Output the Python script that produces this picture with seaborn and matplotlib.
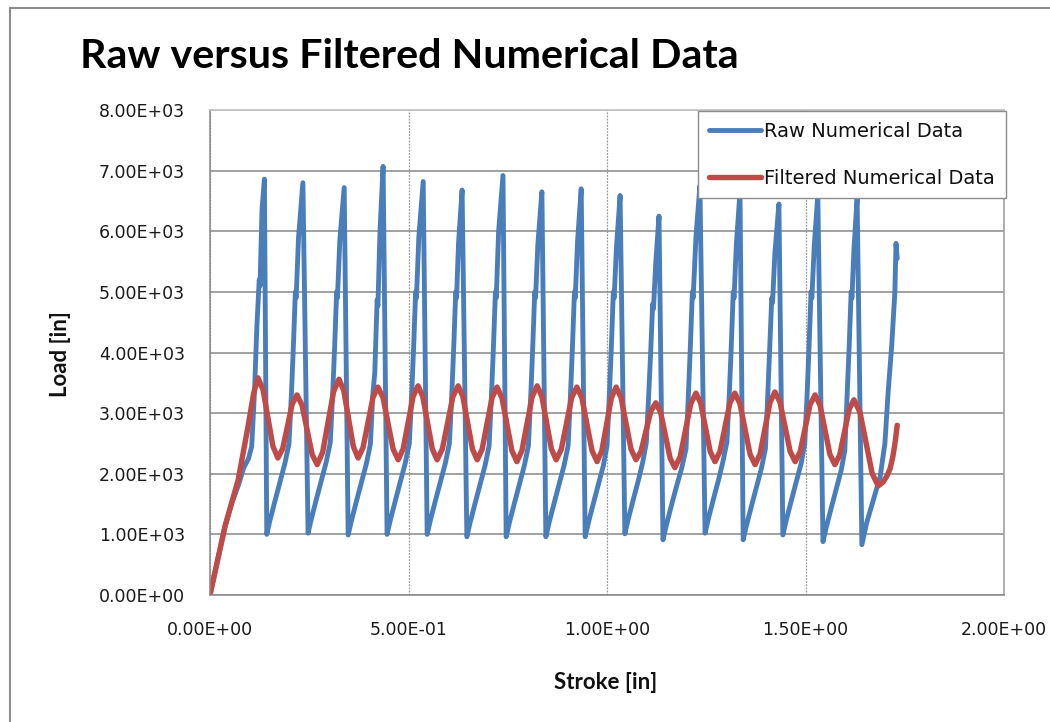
import matplotlib
matplotlib.use("Agg")
import matplotlib.pyplot as plt
from matplotlib.lines import Line2D
import pandas as pd
import seaborn as sns

# ---- Raw numerical data (stroke in, load) ----
raw_stroke = [
    0.000, 0.020, 0.038, 0.055, 0.071, 0.085, 0.097, 0.105, 0.112, 0.118, 0.124, 0.126, 0.131, 0.137,
    0.143, 0.151, 0.164, 0.177, 0.189, 0.199, 0.205, 0.210, 0.215, 0.217, 0.223, 0.234,
    0.247, 0.255, 0.268, 0.281, 0.293, 0.303, 0.309, 0.314, 0.319, 0.321, 0.327, 0.338,
    0.348, 0.356, 0.369, 0.382, 0.394, 0.404, 0.410, 0.415, 0.421, 0.423, 0.428, 0.436,
    0.446, 0.454, 0.467, 0.480, 0.492, 0.502, 0.508, 0.513, 0.518, 0.520, 0.526, 0.537,
    0.547, 0.555, 0.568, 0.581, 0.593, 0.603, 0.609, 0.614, 0.619, 0.621, 0.626, 0.635,
    0.647, 0.655, 0.668, 0.681, 0.693, 0.703, 0.709, 0.714, 0.719, 0.721, 0.727, 0.738,
    0.746, 0.754, 0.767, 0.780, 0.792, 0.802, 0.808, 0.813, 0.818, 0.820, 0.826, 0.836,
    0.846, 0.854, 0.867, 0.880, 0.892, 0.902, 0.908, 0.913, 0.918, 0.920, 0.926, 0.935,
    0.945, 0.953, 0.966, 0.979, 0.991, 1.000, 1.006, 1.011, 1.016, 1.018, 1.024, 1.033,
    1.045, 1.053, 1.066, 1.079, 1.090, 1.099, 1.105, 1.110, 1.115, 1.117, 1.123, 1.131,
    1.141, 1.149, 1.162, 1.175, 1.188, 1.199, 1.205, 1.210, 1.215, 1.217, 1.224, 1.234,
    1.247, 1.255, 1.268, 1.281, 1.292, 1.302, 1.308, 1.313, 1.318, 1.320, 1.326, 1.335,
    1.343, 1.351, 1.364, 1.377, 1.389, 1.399, 1.405, 1.410, 1.415, 1.417, 1.423, 1.433,
    1.443, 1.451, 1.464, 1.477, 1.489, 1.498, 1.504, 1.509, 1.514, 1.516, 1.522, 1.531,
    1.544, 1.552, 1.565, 1.578, 1.590, 1.599, 1.605, 1.610, 1.615, 1.617, 1.622, 1.630,
    1.642, 1.654, 1.671, 1.688, 1.700, 1.708, 1.717, 1.725, 1.728, 1.731,
]
raw_load = [
    0, 600, 1130, 1520, 1800, 2100, 2250, 2450, 3330, 4420, 5200, 5100, 6350, 6860,
    1000, 1230, 1560, 1880, 2180, 2500, 3300, 4100, 5000, 4900, 5900, 6800,
    1020, 1250, 1580, 1900, 2200, 2520, 3320, 4100, 5000, 4900, 5850, 6720,
    990, 1220, 1550, 1870, 2170, 2490, 3300, 3660, 4870, 4770, 5970, 7070,
    1000, 1230, 1560, 1880, 2180, 2500, 3300, 4100, 5000, 4900, 5900, 6820,
    1000, 1230, 1560, 1880, 2180, 2500, 3300, 4100, 5000, 4900, 5800, 6680,
    960, 1190, 1520, 1840, 2140, 2460, 3300, 4100, 5000, 4900, 6000, 6920,
    960, 1190, 1520, 1840, 2140, 2460, 3300, 4100, 5000, 4900, 5800, 6650,
    960, 1190, 1520, 1840, 2140, 2460, 3300, 4100, 5000, 4900, 5850, 6700,
    960, 1190, 1520, 1840, 2140, 2460, 3300, 4100, 5000, 4900, 5750, 6590,
    1010, 1240, 1570, 1890, 2190, 2510, 3300, 4000, 4800, 4720, 5500, 6250,
    910, 1140, 1470, 1790, 2090, 2410, 3300, 4100, 5000, 4900, 5900, 6750,
    1020, 1250, 1580, 1900, 2200, 2520, 3300, 4100, 5000, 4900, 5800, 6650,
    910, 1140, 1470, 1790, 2090, 2410, 3300, 4100, 4900, 4820, 5650, 6450,
    990, 1220, 1550, 1870, 2170, 2490, 3300, 4100, 5000, 4900, 5750, 6600,
    880, 1110, 1440, 1760, 2060, 2380, 3300, 4100, 5000, 4900, 5700, 6550,
    830, 1190, 1570, 1950, 2500, 3330, 4100, 4980, 5800, 5550,
]

# ---- Filtered numerical data (stroke in, load) ----
filtered_stroke = [
    0.000, 0.020, 0.038, 0.071, 0.095, 0.110, 0.121,
    0.1335, 0.146, 0.1585, 0.171, 0.183, 0.195, 0.207, 0.219,
    0.2318, 0.2445, 0.2573, 0.270, 0.2838, 0.2975, 0.3113, 0.325,
    0.337, 0.349, 0.361, 0.373, 0.3855, 0.398, 0.4105, 0.423,
    0.4358, 0.4485, 0.4613, 0.474, 0.4865, 0.499, 0.5115, 0.524,
    0.536, 0.548, 0.560, 0.572, 0.5853, 0.5985, 0.6118, 0.625,
    0.637, 0.649, 0.661, 0.673, 0.6855, 0.698, 0.7105, 0.723,
    0.7355, 0.748, 0.7605, 0.773, 0.7858, 0.7985, 0.8113, 0.824,
    0.836, 0.848, 0.860, 0.872, 0.885, 0.898, 0.911, 0.924,
    0.9368, 0.9495, 0.9623, 0.975, 0.987, 0.999, 1.011, 1.023,
    1.0355, 1.048, 1.0605, 1.073, 1.0855, 1.098, 1.1105, 1.123,
    1.135, 1.147, 1.159, 1.171, 1.1843, 1.1975, 1.2108, 1.224,
    1.236, 1.248, 1.260, 1.272, 1.2845, 1.297, 1.3095, 1.322,
    1.3348, 1.3475, 1.3603, 1.373, 1.3855, 1.398, 1.4105, 1.423,
    1.4358, 1.4485, 1.4613, 1.474, 1.4865, 1.499, 1.5115, 1.524,
    1.5365, 1.549, 1.5615, 1.574, 1.586, 1.598, 1.610, 1.622,
    1.6373, 1.6525, 1.6678, 1.683, 1.695, 1.704, 1.713, 1.720, 1.726, 1.731,
]
filtered_load = [
    0, 600, 1140, 1900, 2750, 3330, 3580,
    3387, 2920, 2453, 2260, 2412, 2780, 3148, 3300,
    3132, 2725, 2318, 2150, 2356, 2855, 3354, 3560,
    3370, 2910, 2450, 2260, 2431, 2845, 3259, 3430,
    3255, 2830, 2405, 2230, 2408, 2840, 3272, 3450,
    3272, 2840, 2408, 2230, 2408, 2840, 3272, 3450,
    3272, 2840, 2408, 2230, 2405, 2830, 3255, 3430,
    3250, 2815, 2380, 2200, 2383, 2825, 3267, 3450,
    3272, 2840, 2408, 2230, 2405, 2830, 3255, 3430,
    3250, 2815, 2380, 2200, 2380, 2815, 3250, 3430,
    3255, 2830, 2405, 2230, 2367, 2700, 3033, 3170,
    3014, 2635, 2256, 2100, 2280, 2715, 3150, 3330,
    3165, 2765, 2365, 2200, 2365, 2765, 3165, 3330,
    3158, 2740, 2322, 2150, 2325, 2750, 3175, 3350,
    3182, 2775, 2368, 2200, 2361, 2750, 3139, 3300,
    3132, 2725, 2318, 2150, 2306, 2685, 3064, 3220,
    3013, 2510, 2007, 1800, 1860, 1950, 2080, 2280, 2530, 2800,
]

x_ticks = [0.0, 0.5, 1.0, 1.5, 2.0]
y_ticks = [0, 1000, 2000, 3000, 4000, 5000, 6000, 7000, 8000]

chart_title = "Raw versus Filtered Numerical Data"
x_title = "Stroke [in]"
y_title = "Load [in]"
raw_label = "Raw Numerical Data"
filtered_label = "Filtered Numerical Data"

RAW_COLOR = "#4a7ebb"
FILTERED_COLOR = "#be4b48"
GRID_COLOR = "#878787"

sns.set_theme(style="white")
plt.rcParams["font.family"] = ["DejaVu Sans"]

W, H = 1050, 722
fig = plt.figure(figsize=(W / 100, H / 100), dpi=100)
fig.patch.set_facecolor("white")

left, right, top, bottom = 210, 1004, 110, 595
ax = fig.add_axes([left / W, 1 - bottom / H, (right - left) / W, (bottom - top) / H])

raw_df = pd.DataFrame({"stroke": raw_stroke, "load": raw_load})
filt_df = pd.DataFrame({"stroke": filtered_stroke, "load": filtered_load})

sns.lineplot(data=raw_df, x="stroke", y="load", sort=False, estimator=None,
             color=RAW_COLOR, linewidth=3.5, ax=ax, label=raw_label,
             solid_joinstyle="round", solid_capstyle="round")
sns.lineplot(data=filt_df, x="stroke", y="load", sort=False, estimator=None,
             color=FILTERED_COLOR, linewidth=3.9, ax=ax, label=filtered_label,
             solid_joinstyle="round", solid_capstyle="round")

ax.set_xlim(x_ticks[0], x_ticks[-1])
ax.set_ylim(y_ticks[0], y_ticks[-1])
ax.set_xticks(x_ticks)
ax.set_yticks(y_ticks)
ax.set_xticklabels([f"{v:.2E}" for v in x_ticks])
ax.set_yticklabels([f"{v:.2E}" for v in y_ticks])
ax.tick_params(axis="both", length=0, labelsize=12.5, colors="#1a1a1a")
ax.tick_params(axis="y", pad=18)
ax.tick_params(axis="x", pad=19)

ax.set_axisbelow(True)
ax.yaxis.grid(True, color=GRID_COLOR, linewidth=1.1)
ax.xaxis.grid(True, color="#9a9a9a", linewidth=0.9, linestyle=(0, (1.5, 1)))

for side in ("left", "bottom"):
    ax.spines[side].set_color(GRID_COLOR)
    ax.spines[side].set_linewidth(1.1)
ax.spines["top"].set_color("#c4c4c4")
ax.spines["right"].set_color("#a6a6a6")
ax.spines["right"].set_linestyle((0, (1.5, 1)))

label_font = dict(fontsize=16, fontweight="bold", color="#111111", family=["Lato", "DejaVu Sans"])
ax.set_xlabel(x_title, **label_font)
ax.set_ylabel(y_title, **label_font)
ax.xaxis.set_label_coords((606 - left) / (right - left), -(672 - bottom) / (bottom - top))
ax.yaxis.set_label_coords(-(left - 71) / (right - left), (bottom - 354) / (bottom - top))

fig.text(80 / W, 1 - 57 / H, chart_title, ha="left", va="center",
         fontsize=29.7, fontweight="bold", color="#000000", family=["Lato", "DejaVu Sans"])

leg = ax.legend(loc="upper left", bbox_to_anchor=(698 / W, 1 - 111 / H),
                bbox_transform=fig.transFigure, frameon=True, fancybox=False,
                edgecolor="#8c8c8c", framealpha=1, fontsize=14,
                handlelength=2.7, handletextpad=0.16, labelspacing=1.42,
                borderpad=0.56, borderaxespad=0)
leg.get_frame().set_linewidth(1.0)
for text in leg.get_texts():
    text.set_color("#111111")

# outer chart border (top and left edges)
fig.add_artist(Line2D([10 / W, 1.0], [1 - 8 / H, 1 - 8 / H], transform=fig.transFigure,
                      color="#8c8c8c", linewidth=1.5))
fig.add_artist(Line2D([10 / W, 10 / W], [0.0, 1 - 8 / H], transform=fig.transFigure,
                      color="#8c8c8c", linewidth=1.5))

fig.savefig("out.png", dpi=100, facecolor="white")
